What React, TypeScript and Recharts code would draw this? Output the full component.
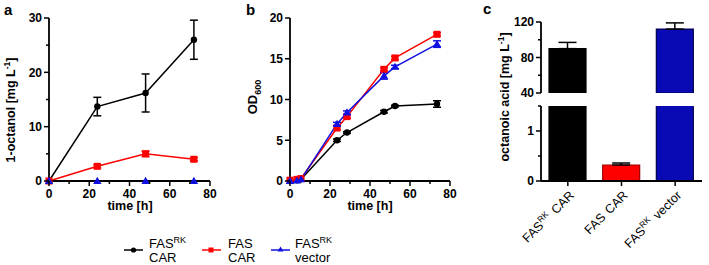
import React from 'react';
import { LineChart, Line, XAxis, YAxis, ErrorBar, BarChart, Bar, Cell } from 'recharts';

const FONT = '"Liberation Sans", Arial, sans-serif';
const BLACK = '#000000';
const RED = '#ff0000';
const BLUE = '#1010e0';
const BLUE_BAR = '#0a0ab4';

// panel a: 1-octanol [mg/L]
const timeA = [0, 24, 48, 72];
const octRkCar = [0, 13.7, 16.2, 26.0];
const octRkCarErr = [0, 1.7, 3.5, 3.6];
const octCar = [0, 2.7, 5.0, 4.0];
const octCarErr = [0, 0.3, 0.5, 0.3];
const octRkVector = [0, 0, 0, 0];

// panel b: OD600
const timeB = [0, 3.5, 5.5, 23.5, 28.5, 47, 52.5, 73.5];
const odRkCar = [0, 0.1, 0.2, 5.0, 5.95, 8.5, 9.2, 9.45];
const odRkCarErr = [0, 0, 0, 0.15, 0.1, 0.15, 0.1, 0.4];
const odCar = [0.1, 0.2, 0.3, 6.5, 7.9, 13.7, 15.1, 18.0];
const odCarErr = [0, 0, 0, 0.2, 0.2, 0.2, 0.2, 0.2];
const odRkVector = [0, 0.05, 0.2, 7.0, 8.4, 12.9, 14.0, 16.8];
const odRkVectorErr = [0, 0, 0, 0.2, 0.2, 0.4, 0.2, 0.4];

// panel c: octanoic acid [mg/L]
const strainBase = ['FAS', 'FAS', 'FAS'];
const strainSup = ['RK', '', 'RK'];
const strainRest = ['CAR', 'CAR', 'vector'];
const acid = [90, 0.32, 112];
const acidErr = [7, 0.04, 7];
const acidColors = [BLACK, RED, BLUE_BAR];
const acidStroke = ['#000000', '#a00000', '#000050'];

const dataA = timeA.map((t, i) => ({
  t,
  rk: octRkCar[i], rkErr: octRkCarErr[i],
  car: octCar[i], carErr: octCarErr[i],
  vec: octRkVector[i],
}));

const dataB = timeB.map((t, i) => ({
  t,
  rk: odRkCar[i], rkErr: odRkCarErr[i],
  car: odCar[i], carErr: odCarErr[i],
  vec: odRkVector[i], vecErr: odRkVectorErr[i],
}));

const names = strainBase.map((b, i) => `${b}${strainSup[i]} ${strainRest[i]}`);
const acidTop = names.map((name, i) => ({
  name,
  v: acid[i] >= 40 ? acid[i] : null,
  e: acid[i] >= 40 ? [0, acidErr[i]] : null,
}));
const acidLow = names.map((name, i) => ({
  name,
  v: acid[i],
  e: acid[i] < 1.5 ? [0, acidErr[i]] : null,
}));

const tickText = { fontFamily: FONT, fontWeight: 'bold' as const, fontSize: 12, fill: '#000' };

const yTick = (labelled: number[]) => (props: any) => {
  const { x, y, payload } = props;
  const v = payload.value;
  const major = labelled.includes(v);
  return (
    <g key={`y-${v}`}>
      <line x1={x} x2={x - (major ? 5 : 3)} y1={y} y2={y} stroke="#000" strokeWidth={1.5} />
      {major && (
        <text x={x - 7} y={y} dy="0.36em" textAnchor="end" {...tickText}>{v}</text>
      )}
    </g>
  );
};

const xTick = (labelled: number[]) => (props: any) => {
  const { x, y, payload } = props;
  const v = payload.value;
  const major = labelled.includes(v);
  return (
    <g key={`x-${v}`}>
      <line x1={x} x2={x} y1={y} y2={y + (major ? 5 : 3)} stroke="#000" strokeWidth={1.5} />
      {major && (
        <text x={x} y={y + 16.5} textAnchor="middle" {...tickText}>{v}</text>
      )}
    </g>
  );
};

const strainTick = (props: any) => {
  const { x, y, payload, index } = props;
  const i = typeof index === 'number' ? index : names.indexOf(payload.value);
  const ax = x + 7;
  const ay = y + 15;
  return (
    <g key={`s-${i}`}>
      <line x1={x} x2={x} y1={y} y2={y + 5} stroke="#000" strokeWidth={1.5} />
      <text x={ax} y={ay} textAnchor="end" transform={`rotate(-45 ${ax} ${ay})`}
        fontFamily={FONT} fontSize={12.5} fill="#000">
        {strainBase[i]}
        {strainSup[i] ? <tspan dy={-5} fontSize={8.5}>{strainSup[i]}</tspan> : null}
        <tspan dx={5} dy={strainSup[i] ? 5 : 0}>{strainRest[i]}</tspan>
      </text>
    </g>
  );
};

const circleDot = (color: string, r = 3.2) => (p: any) =>
  <circle key={`c-${p.index}`} cx={p.cx} cy={p.cy} r={r} fill={color} stroke="none" />;
const squareDot = (color: string, s = 7) => (p: any) =>
  <rect key={`s-${p.index}`} x={p.cx - s / 2} y={p.cy - s / 2} width={s} height={s} fill={color} stroke="none" />;
const triDot = (color: string, s = 4.2) => (p: any) =>
  <polygon key={`t-${p.index}`}
    points={`${p.cx},${p.cy - s} ${p.cx - s},${p.cy + s * 0.7} ${p.cx + s},${p.cy + s * 0.7}`}
    fill={color} stroke="none" />;

const axisLine = { stroke: '#000', strokeWidth: 1.8 };

const TimePanel: React.FC<{ data: any[]; yMax: number; yTicks: number[]; yLabels: number[]; yW: number; vecErr?: boolean }> =
  ({ data, yMax, yTicks, yLabels, yW, vecErr }) => (
    <LineChart width={240} height={210} data={data} margin={{ top: 18, right: 30, bottom: 0, left: 0 }}>
      <XAxis type="number" dataKey="t" domain={[0, 80]} ticks={[0, 10, 20, 30, 40, 50, 60, 70, 80]}
        interval={0} height={29} tickSize={0} tickMargin={0} tickLine={false} axisLine={axisLine}
        tick={xTick([0, 20, 40, 60, 80])} />
      <YAxis type="number" domain={[0, yMax]} ticks={yTicks} interval={0} width={yW}
        tickSize={0} tickMargin={0} tickLine={false} axisLine={axisLine} tick={yTick(yLabels)} />
      <Line dataKey="rk" stroke={BLACK} strokeWidth={1.5} dot={circleDot(BLACK)} isAnimationActive={false}>
        <ErrorBar dataKey="rkErr" width={4} stroke={BLACK} strokeWidth={1.5} direction="y" />
      </Line>
      <Line dataKey="car" stroke={RED} strokeWidth={1.5} dot={squareDot(RED)} isAnimationActive={false}>
        <ErrorBar dataKey="carErr" width={4} stroke={RED} strokeWidth={1.5} direction="y" />
      </Line>
      <Line dataKey="vec" stroke={BLUE} strokeWidth={1.5} dot={triDot(BLUE)} isAnimationActive={false}>
        {vecErr ? <ErrorBar dataKey="vecErr" width={4} stroke={BLUE} strokeWidth={1.5} direction="y" /> : null}
      </Line>
    </LineChart>
  );

const titleText = { fontFamily: FONT, fontWeight: 'bold' as const, fontSize: 12.5, fill: '#000' };
const legendText = { fontFamily: FONT, fontSize: 13, fill: '#000' };

const Overlay: React.FC = () => (
  <svg width={709} height={265} style={{ position: 'absolute', left: 0, top: 0, pointerEvents: 'none' }}>
    <text x={4} y={15} {...titleText} fontSize={15}>a</text>
    <text x={246} y={15} {...titleText} fontSize={15}>b</text>
    <text x={483} y={14} {...titleText} fontSize={15}>c</text>

    <text x={15} y={110} textAnchor="middle" transform="rotate(-90 15 110)" {...titleText}>
      1-octanol [mg L<tspan dy={-5} fontSize={8.5}>-1</tspan><tspan dy={5}>]</tspan>
    </text>
    <text x={130} y={210} textAnchor="middle" {...titleText}>time [h]</text>

    <text x={257} y={97} textAnchor="middle" transform="rotate(-90 257 97)" {...titleText} fontSize={13}>
      OD<tspan dy={4} fontSize={9}>600</tspan>
    </text>
    <text x={370} y={210} textAnchor="middle" {...titleText}>time [h]</text>

    <text x={509} y={97} textAnchor="middle" transform="rotate(-90 509 97)" {...titleText}>
      octanoic acid [mg L<tspan dy={-5} fontSize={8.5}>-1</tspan><tspan dy={5}>]</tspan>
    </text>

    {/* legend */}
    <line x1={124} x2={143} y1={250} y2={250} stroke={BLACK} strokeWidth={1.5} />
    <circle cx={133.5} cy={250} r={2.6} fill={BLACK} />
    <text x={149} y={248} {...legendText}>FAS<tspan dy={-5} fontSize={9}>RK</tspan></text>
    <text x={149} y={262} {...legendText}>CAR</text>

    <line x1={202} x2={221} y1={250} y2={250} stroke={RED} strokeWidth={1.5} />
    <rect x={208.5} y={247.5} width={5} height={5} fill={RED} />
    <text x={228} y={248} {...legendText}>FAS</text>
    <text x={228} y={262} {...legendText}>CAR</text>

    <line x1={271} x2={290} y1={250} y2={250} stroke={BLUE} strokeWidth={1.5} />
    <polygon points="280.5,246.5 277.5,251.5 283.5,251.5" fill={BLUE} />
    <text x={295} y={248} {...legendText}>FAS<tspan dy={-5} fontSize={9}>RK</tspan></text>
    <text x={295} y={262} {...legendText}>vector</text>
  </svg>
);

export default function App() {
  return (
    <div style={{ position: 'absolute', left: 0, top: 0, width: 709, height: 265, background: '#fff', fontFamily: FONT, overflow: 'hidden' }}>
      <div style={{ position: 'absolute', left: 0, top: 0 }}>
        <TimePanel data={dataA} yMax={30} yTicks={[0, 5, 10, 15, 20, 25, 30]} yLabels={[0, 10, 20, 30]} yW={49} />
      </div>
      <div style={{ position: 'absolute', left: 240, top: 0 }}>
        <TimePanel data={dataB} yMax={20} yTicks={[0, 5, 10, 15, 20]} yLabels={[0, 5, 10, 15, 20]} yW={50} vecErr />
      </div>

      <div style={{ position: 'absolute', left: 480, top: 0 }}>
        <BarChart width={229} height={100} data={acidTop} margin={{ top: 22, right: 7, bottom: 7, left: 0 }}>
          <XAxis dataKey="name" hide />
          <YAxis type="number" domain={[40, 120]} ticks={[40, 60, 80, 100, 120]} interval={0} width={61}
            allowDataOverflow tickSize={0} tickMargin={0} tickLine={false} axisLine={axisLine}
            tick={yTick([40, 80, 120])} />
          <Bar dataKey="v" barSize={37} isAnimationActive={false}>
            {acidColors.map((c, i) => <Cell key={`ct-${i}`} fill={c} stroke={acidStroke[i]} strokeWidth={1.2} />)}
            <ErrorBar dataKey="e" width={9} stroke="#000" strokeWidth={1.5} direction="y" />
          </Bar>
        </BarChart>
      </div>
      <div style={{ position: 'absolute', left: 480, top: 100 }}>
        <BarChart width={229} height={165} data={acidLow} margin={{ top: 6, right: 7, bottom: 0, left: 0 }}>
          <XAxis dataKey="name" height={84} interval={0} tickSize={0} tickMargin={0} tickLine={false}
            axisLine={axisLine} tick={strainTick} />
          <YAxis type="number" domain={[0, 1.5]} ticks={[0, 0.5, 1, 1.5]} interval={0} width={61}
            allowDataOverflow tickSize={0} tickMargin={0} tickLine={false} axisLine={axisLine}
            tick={yTick([0, 1])} />
          <Bar dataKey="v" barSize={37} isAnimationActive={false}>
            {acidColors.map((c, i) => <Cell key={`cl-${i}`} fill={c} stroke={acidStroke[i]} strokeWidth={1.2} />)}
            <ErrorBar dataKey="e" width={9} stroke="#000" strokeWidth={1.5} direction="y" />
          </Bar>
        </BarChart>
      </div>

      <Overlay />
    </div>
  );
}
